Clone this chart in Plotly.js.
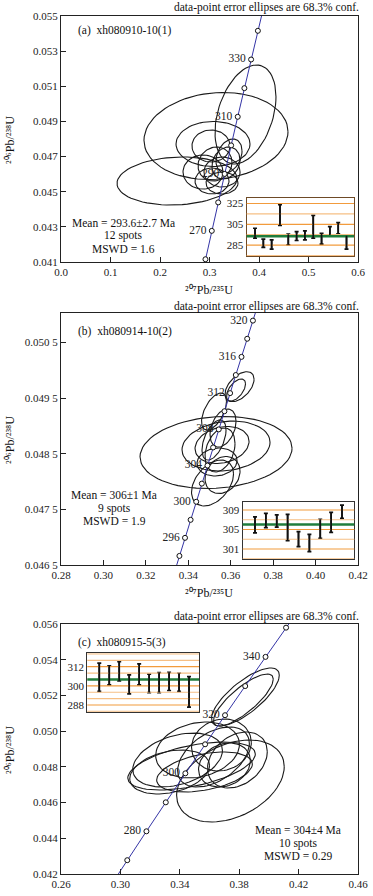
<!DOCTYPE html>
<html>
<head>
<meta charset="utf-8">
<script src="https://cdn.plot.ly/plotly-3.0.1.min.js"></script>
<style>
  html, body { margin: 0; padding: 0; background: #fff; }
  #chart { width: 373px; height: 896px; }
</style>
</head>
<body>
<div id="chart"></div>
<script>
// concordia points every 10 Ma (panels a and c)
const concAges = [250, 260, 270, 280, 290, 300, 310, 320, 330, 340, 350, 360];
const concX = [0.279171, 0.291831, 0.304617, 0.317529, 0.330569, 0.343737, 0.357037, 0.370466, 0.384031, 0.397730, 0.411563, 0.425533];
const concY = [0.039543, 0.041157, 0.042773, 0.044392, 0.046013, 0.047637, 0.049264, 0.050893, 0.052524, 0.054158, 0.055795, 0.057434];
const concLabelsA = [270, 290, 310, 330];
const concLabelsC = [280, 300, 320, 340];

// concordia points every 2 Ma (panel b)
const concAgesB = [290, 292, 294, 296, 298, 300, 302, 304, 306, 308, 310, 312, 314, 316, 318, 320, 322];
const concXB = [0.330568, 0.333191, 0.335820, 0.338454, 0.341093, 0.343737, 0.346386, 0.349041, 0.351701, 0.354366, 0.357036, 0.359711, 0.362392, 0.365078, 0.367770, 0.370466, 0.373168];
const concYB = [0.046013, 0.046338, 0.046663, 0.046988, 0.047312, 0.047637, 0.047963, 0.048288, 0.048613, 0.048938, 0.049264, 0.049590, 0.049915, 0.050241, 0.050567, 0.050893, 0.051219];
const concLabelsB = [296, 300, 304, 308, 312, 316, 320];

// error ellipses: centre, half widths, correlation
const aEllX = [0.3727, 0.3131, 0.2343, 0.3071, 0.3394, 0.3030, 0.3111, 0.3333, 0.2869, 0.3253, 0.3051, 0.3253];
const aEllY = [0.049394, 0.048171, 0.045610, 0.047716, 0.047033, 0.047602, 0.046577, 0.046634, 0.046122, 0.046122, 0.045610, 0.045496];
const aEllSX = [0.0616, 0.1455, 0.1212, 0.0747, 0.0263, 0.0384, 0.0343, 0.0283, 0.0404, 0.0364, 0.0343, 0.0323];
const aEllSY = [0.002817, 0.002476, 0.001366, 0.001281, 0.000967, 0.000911, 0.000967, 0.000911, 0.000967, 0.000854, 0.000740, 0.000626];
const aEllRho = [0.36, 0.1, 0.1, 0.0, 0.3, 0.0, 0.1, 0.2, 0.0, 0.0, 0.0, 0.0];

const bEllX = [0.35308, 0.35779, 0.35591, 0.36416, 0.36251, 0.35213, 0.35638, 0.35143, 0.35614, 0.35213, 0.35496, 0.35355];
const bEllY = [0.048522, 0.048639, 0.048657, 0.049705, 0.049646, 0.049259, 0.048963, 0.047974, 0.048118, 0.048747, 0.048567, 0.048352];
const bEllSX = [0.03583, 0.02074, 0.01273, 0.00684, 0.00448, 0.00589, 0.00613, 0.0099, 0.00825, 0.00566, 0.00707, 0.00943];
const bEllSY = [0.000647, 0.000449, 0.000333, 0.00027, 0.000198, 0.000333, 0.000342, 0.000413, 0.000333, 0.00036, 0.000395, 0.000252];
const bEllRho = [0.12, 0.15, 0.2, 0.5, 0.55, 0.55, 0.35, 0.4, 0.2, 0.5, 0.3, 0.1];

const cEllX = [0.38416, 0.38282, 0.37409, 0.34792, 0.33852, 0.35195, 0.36268, 0.35664, 0.36805, 0.37879, 0.33315, 0.37007];
const cEllY = [0.051912, 0.051744, 0.047208, 0.048048, 0.048384, 0.048944, 0.048552, 0.047712, 0.049224, 0.048384, 0.047712, 0.048104];
const cEllSX = [0.02282, 0.02013, 0.03624, 0.04295, 0.0302, 0.02819, 0.02416, 0.03221, 0.02013, 0.02013, 0.02685, 0.01745];
const cEllSY = [0.001624, 0.001456, 0.002296, 0.001344, 0.001512, 0.001568, 0.00168, 0.00112, 0.001456, 0.001568, 0.001232, 0.001232];
const cEllRho = [0.75, 0.8, 0.35, 0.5, 0.35, 0.2, 0.45, 0.4, 0.1, 0.3, 0.3, 0.2];

// weighted mean insets: age ranges per spot (Ma)
const aLow = [291.7, 282.8, 281.2, 304.0, 285.3, 289.4, 290.1, 291.7, 286.0, 294.8, 295.8, 281.2];
const aHigh = [301.2, 290.7, 290.1, 324.0, 295.5, 298.0, 298.7, 313.6, 296.4, 302.8, 306.6, 293.9];
const bLow = [304.3, 305.4, 305.5, 302.7, 301.5, 300.45, 303.2, 304.4, 307.3];
const bHigh = [307.6, 308.3, 308.0, 308.1, 304.55, 304.0, 307.1, 308.5, 310.0];
const cLow = [296.5, 300.6, 303.1, 295.0, 300.6, 295.8, 295.8, 297.1, 296.5, 286.7];
const cHigh = [314.2, 312.5, 315.2, 306.9, 313.75, 307.3, 308.3, 308.5, 307.9, 305.8];
const meanAges = [293.6, 306, 304];

// inset grid levels (major ones carry labels)
const gridA = [275, 285, 295, 305, 315, 325];
const gridB = [299, 301, 303, 305, 307, 309];
const gridC = [284, 288, 292, 296, 300, 304, 308, 312, 316, 320];
const tickA = [285, 305, 325];
const tickB = [301, 305, 309];
const tickC = [288, 300, 312];

const panelNames = ['(a)\u00a0\u00a0xh080910-10(1)', '(b)\u00a0\u00a0xh080914-10(2)', '(c)\u00a0\u00a0xh080915-5(3)'];
const meanText = [
    ['Mean = 293.6\u00b12.7 Ma', '12 spots', 'MSWD = 1.6'],
    ['Mean = 306\u00b11 Ma', '9 spots', 'MSWD = 1.9'],
    ['Mean = 304\u00b14 Ma', '10 spots', 'MSWD = 0.29']
];
const yTicksB = [0.0465, 0.0475, 0.0485, 0.0495, 0.0505];
const yTickTextB = ['0.046 5', '0.047 5', '0.048 5', '0.049 5', '0.050 5'];
const yTitleText = '\u00b2\u2070\u2076Pb/\u00b2\u00b3\u2078U';
const xTitleText = '\u00b2\u2070\u2077Pb/\u00b2\u00b3\u2075U';

const FONT = 'Liberation Serif, Times New Roman, serif';

function ellipseTrace(cx, cy, sx, sy, rho, xa, ya) {
    const xs = [], ys = [];
    const n = 72;
    for (let i = 0; i < cx.length; i++) {
        const q = Math.sqrt(1 - rho[i] * rho[i]);
        for (let k = 0; k <= n; k++) {
            const t = 2 * Math.PI * k / n;
            xs.push(cx[i] + sx[i] * Math.cos(t));
            ys.push(cy[i] + sy[i] * (rho[i] * Math.cos(t) + q * Math.sin(t)));
        }
        xs.push(null); ys.push(null);
    }
    return {
        x: xs, y: ys, xaxis: xa, yaxis: ya,
        type: 'scatter', mode: 'lines',
        line: {color: '#1a1a1a', width: 1.1},
        hoverinfo: 'skip', showlegend: false
    };
}

function concordiaTraces(ages, xs, ys, labelled, xa, ya) {
    const idx = ages.map((a, i) => i).filter(i => labelled.includes(ages[i]));
    return [{
        x: xs, y: ys, xaxis: xa, yaxis: ya,
        type: 'scatter', mode: 'lines+markers',
        line: {color: '#3434a6', width: 1},
        marker: {symbol: 'circle', size: 5, color: '#fff', line: {color: '#111', width: 1}},
        showlegend: false
    }, {
        x: idx.map(i => xs[i]), y: idx.map(i => ys[i]), xaxis: xa, yaxis: ya,
        type: 'scatter', mode: 'markers+text',
        marker: {size: 7, color: 'rgba(0,0,0,0)'},
        text: idx.map(i => String(ages[i])),
        textposition: 'middle left',
        textfont: {family: FONT, size: 11.5, color: '#222'},
        showlegend: false
    }];
}

function insetTrace(lows, highs, xa, ya) {
    const mid = lows.map((l, i) => (l + highs[i]) / 2);
    return {
        x: lows.map((l, i) => i + 1), y: mid, xaxis: xa, yaxis: ya,
        type: 'scatter', mode: 'markers',
        marker: {size: 1, color: 'rgba(0,0,0,0)'},
        error_y: {
            type: 'data', symmetric: false,
            array: highs.map((h, i) => h - mid[i]),
            arrayminus: lows.map((l, i) => mid[i] - l),
            color: '#111', thickness: 1.7, width: 2
        },
        showlegend: false
    };
}

const data = [
    ellipseTrace(aEllX, aEllY, aEllSX, aEllSY, aEllRho, 'x', 'y'),
    ...concordiaTraces(concAges, concX, concY, concLabelsA, 'x', 'y'),
    ellipseTrace(bEllX, bEllY, bEllSX, bEllSY, bEllRho, 'x2', 'y2'),
    ...concordiaTraces(concAgesB, concXB, concYB, concLabelsB, 'x2', 'y2'),
    ellipseTrace(cEllX, cEllY, cEllSX, cEllSY, cEllRho, 'x3', 'y3'),
    ...concordiaTraces(concAges, concX, concY, concLabelsC, 'x3', 'y3')
];

const W = 373, H = 896;
const px = v => v / W;
const py = v => 1 - v / H;
const tickFont = {family: FONT, size: 11, color: '#222'};

function mainX(dom, range, dtick, fmt, anchor) {
    return {
        domain: dom, range: range, dtick: dtick, tick0: range[0], tickformat: fmt,
        ticks: 'inside', ticklen: 5, tickcolor: '#222',
        showline: true, mirror: true, linecolor: '#222', linewidth: 1,
        showgrid: false, zeroline: false, tickfont: tickFont, anchor: anchor
    };
}

const xDom = [px(61), px(358)];
const layout = {
    width: W, height: H,
    margin: {l: 0, r: 0, t: 0, b: 0},
    paper_bgcolor: '#fff', plot_bgcolor: '#fff',
    showlegend: false,
    xaxis: mainX(xDom, [0, 0.6], 0.1, '.1f', 'y'),
    yaxis: mainX([py(262), py(16)], [0.041, 0.055], 0.002, '.3f', 'x'),
    xaxis2: mainX(xDom, [0.28, 0.42], 0.02, '.2f', 'y2'),
    yaxis2: Object.assign(mainX([py(565), py(313)], [0.0465, 0.05103], 0.001, '.4f', 'x2'),
        {tickmode: 'array', tickvals: yTicksB, ticktext: yTickTextB}),
    xaxis3: mainX(xDom, [0.26, 0.46], 0.04, '.2f', 'y3'),
    yaxis3: mainX([py(874), py(624)], [0.042, 0.056], 0.002, '.3f', 'x3'),
    annotations: [],
    shapes: []
};

const insets = [
    {xd: [246.7, 354], yd: [256, 198.3], xr: [0, 12.9], yr: [274.5, 330], tv: tickA, grid: gridA, low: aLow, high: aHigh, border: '#6e4a26'},
    {xd: [242.7, 354.3], yd: [559, 501.7], xr: [-0.13, 10.13], yr: [298.95, 310.7], tv: tickB, grid: gridB, low: bLow, high: bHigh, border: '#333'},
    {xd: [87.3, 199], yd: [711.7, 653.3], xr: [-0.2, 11], yr: [283.8, 320.4], tv: tickC, grid: gridC, low: cLow, high: cHigh, border: '#333'}
];
insets.forEach((s, i) => {
    const n = i + 4;
    layout['xaxis' + n] = {
        domain: [px(s.xd[0]), px(s.xd[1])], range: s.xr, anchor: 'y' + n,
        showticklabels: false, ticks: '', showgrid: false, zeroline: false,
        showline: true, mirror: true, linecolor: s.border, linewidth: 1.4
    };
    layout['yaxis' + n] = {
        domain: [py(s.yd[0]), py(s.yd[1])], range: s.yr, anchor: 'x' + n,
        tickmode: 'array', tickvals: s.tv, ticks: '', tickfont: tickFont,
        showgrid: false, zeroline: false,
        showline: true, mirror: true, linecolor: s.border, linewidth: 1.4
    };
    // orange grid levels, then green weighted mean
    s.grid.forEach(g => {
        layout.shapes.push({
            type: 'line', xref: 'x' + n + ' domain', yref: 'y' + n,
            x0: 0, x1: 1, y0: g, y1: g,
            line: {color: s.tv.includes(g) ? '#f29b3c' : '#f6bf84', width: 1.2}
        });
    });
    layout.shapes.push({
        type: 'line', xref: 'x' + n + ' domain', yref: 'y' + n,
        x0: 0, x1: 1, y0: meanAges[i], y1: meanAges[i],
        line: {color: '#1f7d3c', width: 2.5}
    });
});
// spot bars repeated as shapes so they sit above the mean line
insets.forEach((s, i) => {
    const n = i + 4;
    s.low.forEach((l, k) => {
        layout.shapes.push({type: 'line', xref: 'x' + n, yref: 'y' + n, x0: k + 1, x1: k + 1, y0: l, y1: s.high[k],
            line: {color: '#111', width: 1.7}});
    });
    data.push(insetTrace(s.low, s.high, 'x' + n, 'y' + n));
});

// text blocks
const headerY = [7, 306, 616];
const nameY = [30, 331.7, 642];
const yTitleY = [140, 440, 750];
headerY.forEach((y, i) => {
    layout.annotations.push({
        xref: 'paper', yref: 'paper', x: px(361), y: py(y), xanchor: 'right', yanchor: 'middle',
        text: 'data-point error ellipses are 68.3% conf.', showarrow: false,
        font: {family: FONT, size: 11.5, color: '#111'}
    });
    layout.annotations.push({
        xref: 'paper', yref: 'paper', x: px(76), y: py(nameY[i]), xanchor: 'left', yanchor: 'middle',
        text: panelNames[i], showarrow: false,
        font: {family: FONT, size: 11.5, color: '#111'}
    });
    layout.annotations.push({
        xref: 'paper', yref: 'paper', x: px(10), y: py(yTitleY[i]), xanchor: 'center', yanchor: 'middle',
        text: yTitleText, textangle: -90, showarrow: false,
        font: {family: FONT, size: 12, color: '#111'}
    });
});
[290, 593].forEach(y => {
    layout.annotations.push({
        xref: 'paper', yref: 'paper', x: px(209), y: py(y), xanchor: 'center', yanchor: 'middle',
        text: xTitleText, showarrow: false,
        font: {family: FONT, size: 12, color: '#111'}
    });
});
const meanPos = [[123, 222.7], [114, 495], [298, 830]];
meanText.forEach((lines, i) => {
    lines.forEach((t, j) => {
        layout.annotations.push({
            xref: 'paper', yref: 'paper', x: px(meanPos[i][0]), y: py(meanPos[i][1] + j * 13),
            xanchor: 'center', yanchor: 'middle', text: t, showarrow: false, borderpad: 0,
            font: {family: FONT, size: 11.5, color: '#111'}
        });
    });
});

Plotly.newPlot('chart', data, layout, {displayModeBar: false});
</script>
</body>
</html>
